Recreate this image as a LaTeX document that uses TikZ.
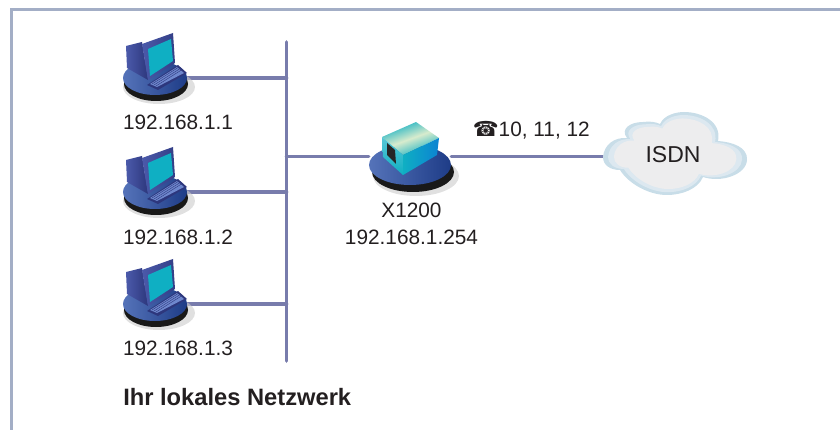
\documentclass[tikz,border=0pt]{standalone}
\usepackage{xcolor}
\usepackage{fontspec}
\usetikzlibrary{arrows,positioning}
\setmainfont{Liberation Sans}
\newfontfamily\phonefont{DejaVu Sans}

\definecolor{framecol}{RGB}{163,174,198}
\definecolor{netcol}{RGB}{120,124,172}
\definecolor{diskdark}{RGB}{30,60,135}
\definecolor{disklight}{RGB}{85,115,185}
\definecolor{pcblue}{RGB}{75,90,170}
\definecolor{pcdark}{RGB}{45,55,125}
\definecolor{screencol}{RGB}{15,175,195}
\definecolor{keycol}{RGB}{110,135,205}
\definecolor{boxcream}{RGB}{215,235,205}
\definecolor{cloudedge}{RGB}{200,221,232}
\definecolor{cloudmid}{RGB}{220,232,240}
\definecolor{cloudcore}{RGB}{237,237,238}
\definecolor{textcol}{RGB}{35,31,32}

\newcommand{\cloudpath}{(-73,2) .. controls (-72,-10) and (-62,-18) .. (-49,-17)
  .. controls (-56,-26) and (-46,-33) .. (-33,-33)
  .. controls (-26,-34) and (-20,-33) .. (-16,-31)
  .. controls (-12,-40) and (0,-43) .. (8,-43)
  .. controls (26,-43) and (46,-33) .. (42,-14)
  .. controls (56,-13) and (72,-8) .. (71,5)
  .. controls (70,20) and (45,28) .. (27,22)
  .. controls (22,34) and (6,40) .. (-9,40)
  .. controls (-28,40) and (-48,28) .. (-56,15)
  .. controls (-66,15) and (-73,10) .. (-73,2) -- cycle}

\tikzset{
  netline/.style={draw=netcol,line width=3.6pt,line cap=round},
  pics/computer/.style={code={
    \fill[black!20,opacity=.6] (4,9) ellipse (36 and 17);
    \fill[black!90] (1,6) ellipse (32 and 17);
    \shade[left color=disklight,right color=diskdark] (0,0) ellipse (32 and 17);
    \shade[left color=pcblue,right color=pcdark] (-29,-32) -- (-13,-36) -- (-7,2) -- (-28,-10) -- cycle;
    \shade[left color=pcblue,right color=pcdark!80!pcblue] (-13,-34) -- (18,-45) -- (20,-15) -- (-7,2) -- cycle;
    \fill[screencol] (-7,-29) -- (16,-39) -- (18,-17) -- (-5,-2) -- cycle;
    \fill[pcdark] (-8,7) -- (23,-13) -- (32,-5) -- (3,12) -- cycle;
    \fill[keycol] (-5,6) -- (22,-11) -- (29,-5) -- (2,9) -- cycle;
    \foreach \k in {0,1,2}
      \draw[pcdark,line width=.4pt] (-3+\k*2,6+\k) -- (24+\k*2,-11+\k);
  }},
  pics/routerbox/.style={code={
    \fill[black!20,opacity=.6] (6,11) ellipse (43 and 20);
    \fill[black!90] (3,7) ellipse (41 and 20);
    \shade[left color=disklight,right color=diskdark] (0,0) ellipse (41 and 20);
    \shade[left color=screencol,right color=screencol,middle color=boxcream,shading angle=20] (-28,-28) -- (6,-43) -- (29,-27) -- (-7,-10) -- cycle;
    \shade[top color=screencol!70!white,bottom color=screencol] (-28,-28) -- (-7,-10) -- (-7,10) -- (-27,-8) -- cycle;
    \shade[left color=screencol,right color=screencol!75!blue] (-7,-10) -- (29,-27) -- (27,-10) -- (-7,10) -- cycle;
    \fill[black!85] (-23,-22) -- (-15,-15) -- (-14,-1) -- (-23,-10) -- cycle;
  }}
}

\begin{document}
\begin{tikzpicture}[x=1pt,y=-1pt,semithick,text=textcol,font=\fontsize{20.8}{27}\selectfont]
  \tikzstyle{every node}=[inner sep=0pt]
  \tikzstyle{hostnode}=[minimum width=64pt,minimum height=34pt]
  \useasboundingbox (0,0) rectangle (840,430);

  \draw[framecol,line width=3pt] (11.3,430) -- (11.3,9.5) -- (840,9.5);

  \node[hostnode] (pcA) at (155,78) {};
  \node[hostnode] (pcB) at (155,192) {};
  \node[hostnode] (pcC) at (155,304) {};
  \node[hostnode,minimum width=82pt] (router) at (410,156.5) {};
  \coordinate (bustop) at (286.5,42);
  \coordinate (busbot) at (286.5,361);
  \node[minimum width=146pt,minimum height=82pt] (isdn) at (676,155) {};

  \path[netline]	(bustop) edge (busbot)
		(pcA) edge (pcA -| bustop)
		(pcB) edge (pcB -| bustop)
		(pcC) edge (pcC -| bustop)
		(router) edge (router -| bustop)
		(router) edge (router -| isdn.west);

  \pic at (pcA) {computer};
  \pic at (pcB) {computer};
  \pic at (pcC) {computer};
  \pic at (410,165) {routerbox};

  \fill[cloudedge,shift={(676,155)}] \cloudpath;
  \fill[cloudmid,shift={(676,155)},scale=.93] \cloudpath;
  \fill[cloudcore,shift={(676,155)},scale=.85] \cloudpath;

  \node (ipA) at (178,122.5) {192.168.1.1};
  \node (ipB) at (178,237) {192.168.1.2};
  \node (ipC) at (178,348.5) {192.168.1.3};
  \node[align=center] (routerlabel) at (411.5,223.5) {X1200\\192.168.1.254};
  \node[font=\fontsize{23}{27}\selectfont] (isdnlabel) at (673,155) {ISDN};
  \node[anchor=east] (phonelabel) at (590,130) {{\phonefont\char"260E}10, 11, 12};
  \node[font=\fontsize{23.7}{27}\selectfont\bfseries,anchor=west] (lanlabel) at (123,397) {Ihr lokales Netzwerk};
\end{tikzpicture}
\end{document}
